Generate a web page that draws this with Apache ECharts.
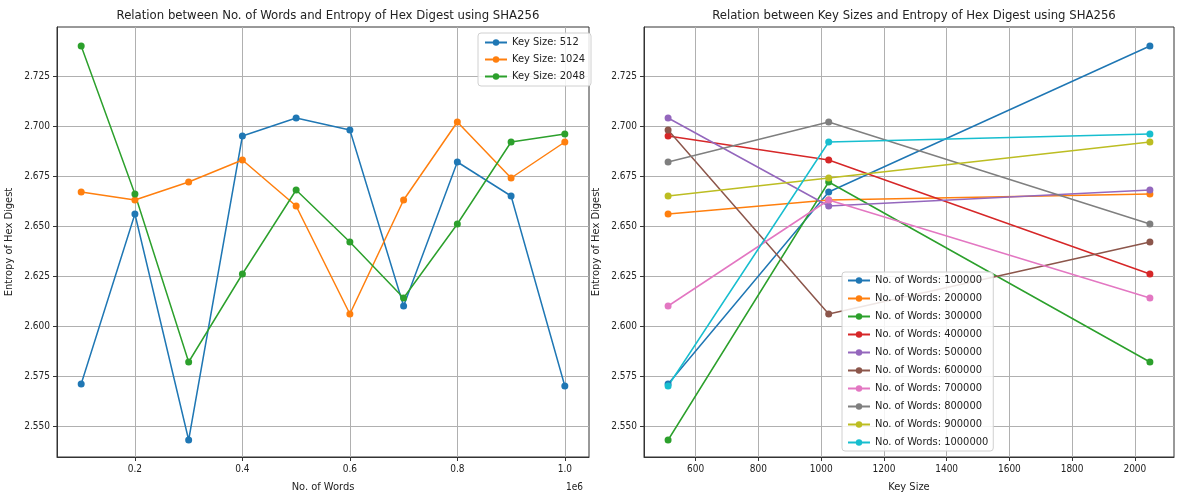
<!DOCTYPE html>
<html>
<head>
<meta charset="utf-8">
<script src="https://cdn.jsdelivr.net/npm/echarts@6/dist/echarts.min.js"></script>
<style>
html,body{margin:0;padding:0;background:#fff;}
#chart{width:1177px;height:498px;}
</style>
</head>
<body>
<div id="chart"></div>
<script>
// ---- data ----
const words = [100000, 200000, 300000, 400000, 500000, 600000, 700000, 800000, 900000, 1000000];
const keySizes = [512, 1024, 2048];
const entropy512  = [2.571, 2.656, 2.543, 2.695, 2.704, 2.698, 2.610, 2.682, 2.665, 2.570];
const entropy1024 = [2.667, 2.663, 2.672, 2.683, 2.660, 2.606, 2.663, 2.702, 2.674, 2.692];
const entropy2048 = [2.740, 2.666, 2.582, 2.626, 2.668, 2.642, 2.614, 2.651, 2.692, 2.696];
const yTicks = [2.550, 2.575, 2.600, 2.625, 2.650, 2.675, 2.700, 2.725];
const wordTicks = [200000, 400000, 600000, 800000, 1000000];
const keyTicks = [600, 800, 1000, 1200, 1400, 1600, 1800, 2000];
const colors = ['#1f77b4', '#ff7f0e', '#2ca02c', '#d62728', '#9467bd', '#8c564b', '#e377c2', '#7f7f7f', '#bcbd22', '#17becf'];

const byKey = [entropy512, entropy1024, entropy2048];
const FONT = '"DejaVu Sans Condensed","Liberation Sans Narrow","Roboto Condensed",Roboto,sans-serif';
const TXT = '#222';

function yAxisCfg(gridIndex) {
  return {
    type: 'value', gridIndex: gridIndex, min: 2.5345, max: 2.7495,
    name: 'Entropy of Hex Digest', nameLocation: 'middle', nameGap: 42,
    nameTextStyle: {fontFamily: FONT, fontSize: 11, color: TXT},
    axisLine: {show: true, lineStyle: {color: '#333', width: 1}},
    axisTick: {show: true, length: 4, customValues: yTicks, lineStyle: {color: '#333'}},
    axisLabel: {customValues: yTicks, fontFamily: FONT, fontSize: 10, color: TXT, margin: 7,
      formatter: v => v.toFixed(3)},
    splitLine: {show: true, lineStyle: {color: '#b0b0b0', width: 1}}
  };
}
function xAxisCfg(gridIndex, min, max, ticks, name, fmt) {
  return {
    type: 'value', gridIndex: gridIndex, min: min, max: max,
    name: name, nameLocation: 'middle', nameGap: 25,
    nameTextStyle: {fontFamily: FONT, fontSize: 11, color: TXT},
    axisLine: {show: true, onZero: false, lineStyle: {color: '#333', width: 1}},
    axisTick: {show: true, length: 4, customValues: ticks, lineStyle: {color: '#333'}},
    axisLabel: {customValues: ticks, fontFamily: FONT, fontSize: 10, color: TXT, margin: 7, formatter: fmt},
    splitLine: {show: true, lineStyle: {color: '#b0b0b0', width: 1}}
  };
}

const series = [];
keySizes.forEach((k, i) => {
  series.push({
    name: 'Key Size: ' + k, type: 'line', xAxisIndex: 0, yAxisIndex: 0,
    data: words.map((w, j) => [w, byKey[i][j]]),
    symbol: 'circle', symbolSize: 7, color: colors[i],
    lineStyle: {width: 1.5}, animation: false
  });
});
words.forEach((w, j) => {
  series.push({
    name: 'No. of Words: ' + w, type: 'line', xAxisIndex: 1, yAxisIndex: 1,
    data: keySizes.map((k, i) => [k, byKey[i][j]]),
    symbol: 'circle', symbolSize: 7, color: colors[j],
    lineStyle: {width: 1.5}, animation: false
  });
});

const legendBase = {
  orient: 'vertical', backgroundColor: 'rgba(255,255,255,0.85)', borderColor: '#d0d0d0',
  borderWidth: 1, borderRadius: 3, itemWidth: 22, itemHeight: 8,
  textStyle: {fontFamily: FONT, fontSize: 11, color: TXT}
};

const chart = echarts.init(document.getElementById('chart'), null, {renderer: 'canvas'});
chart.setOption({
  animation: false,
  backgroundColor: '#fff',
  title: [
    {text: 'Relation between No. of Words and Entropy of Hex Digest using SHA256', left: 323, top: 4, textAlign: 'center',
      textStyle: {fontFamily: FONT, fontSize: 13, fontWeight: 'normal', color: TXT}},
    {text: 'Relation between Key Sizes and Entropy of Hex Digest using SHA256', left: 909, top: 4, textAlign: 'center',
      textStyle: {fontFamily: FONT, fontSize: 13, fontWeight: 'normal', color: TXT}}
  ],
  grid: [
    {left: 57, top: 27, width: 532, height: 431, show: true, borderColor: '#333', borderWidth: 1, backgroundColor: 'transparent'},
    {left: 644, top: 27, width: 530, height: 431, show: true, borderColor: '#333', borderWidth: 1, backgroundColor: 'transparent'}
  ],
  xAxis: [
    xAxisCfg(0, 55000, 1045000, wordTicks, 'No. of Words', v => (v / 1e6).toFixed(1)),
    xAxisCfg(1, 435.2, 2124.8, keyTicks, 'Key Size', v => String(Math.round(v)))
  ],
  yAxis: [yAxisCfg(0), yAxisCfg(1)],
  legend: [
    Object.assign({}, legendBase, {data: keySizes.map(k => 'Key Size: ' + k), left: 478, top: 33, itemGap: 6, padding: [4, 6]}),
    Object.assign({}, legendBase, {data: words.map(w => 'No. of Words: ' + w), left: 842, top: 272, itemGap: 7, padding: [3, 5]})
  ],
  graphic: [
    {type: 'text', left: 566, top: 482, style: {text: '1e6', fontFamily: FONT, fontSize: 10, fill: TXT}}
  ],
  series: series
});
</script>
</body>
</html>
